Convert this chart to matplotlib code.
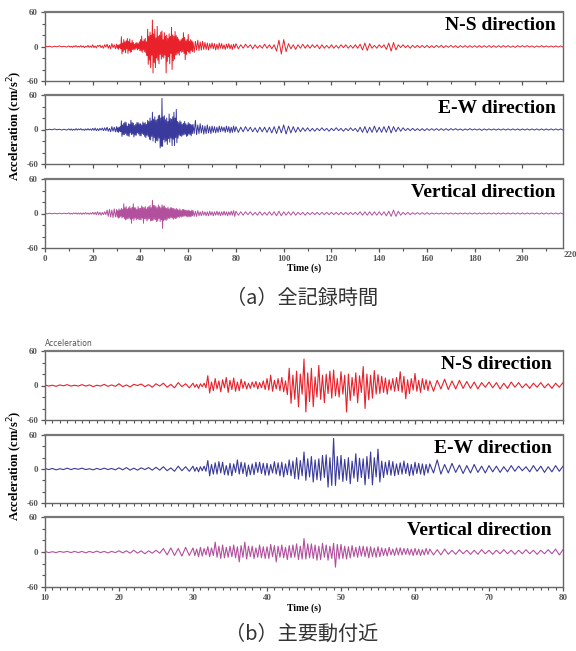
import numpy as np
import matplotlib
matplotlib.use("Agg")
import matplotlib.pyplot as plt
from matplotlib.ticker import MultipleLocator

# peak accelerations (cm/s2), alternating up/down swings
# 10-30 s and 62-80 s: one swing every 0.5 s ; 30-62 s: one every 0.25 s
ns_s1 = [1, -1, 0.5, -1.5, 1, -0.5, 1.5, -1, 0.5, -1,
         1.5, -1, 1, -2, 0.5, -1, 2, -1.5, 1, -1.5,
         3, -2, 1, -2.5, 2, 0, 2.5, -2, 1.5, -3,
         3, -1, 4, -3, 2, -4, 5, -2, 3, -4]
ns_s2 = [4, -3, 2, -5, 3, -2, 4, -4, 17, -13, 6, -9, 12, -6, 8, -11,
         10, -4, 14, -12, 9, -7, 13, -10, 6, -9, 11, -5, 7, -6, 4, -5,
         6, -3, 7, -6, 5, -4, 8, -7, 12, -8, 18, -10, 9, -6, 12, -9,
         14, -11, 8, -16, 30, -31, 18, -24, 25, -37, 20, -15, 46, -46, 22, -28,
         30, -37, 15, -20, 35, -24, 18, -30, 20, -14, 25, -22, 27, -18, 12, -20,
         24, -15, 18, -46, 20, -26, 14, -18, 22, -30, 17, -12, 33, -40, 20, -25,
         18, -22, 26, -15, 19, -14, 16, -12, 13, -15, 10, -8, 12, -10, 14, -9,
         24, -12, 16, -23, 10, -14, 12, -8, 21, -10, 9, -12, 12, -7, 10, -9]
ns_s3 = [8, -10, 9, -6, 11, -7, 8, -6, 9, -5,
         7, -5, 6, -6, 5, -3, 6, -4, 5, -6,
         4, -5, 6, -3, 5, -4, 3, -5, 4, -3,
         5, -4, 3, -5, 4, -3, 5]

ew_s1 = [1, -1, 1, -1.5, 0.5, -1, 1.5, -1, 1, -0.5,
         1.5, -1, 0.5, -1.5, 1, -1, 1.5, -1, 1, -1.5,
         2, -1.5, 2.5, -2, 1.5, -2, 2, -1, 2.5, -2,
         3, -2, 4, -3, 2, -4, 5, -3, 4, -4]
ew_s2 = [5, -4, 3, -5, 4, -3, 5, -4, 15, -12, 8, -9, 11, -9, 13, -7,
         12, -10, 6, -11, 10, -12, 9, -6, 16, -9, 12, -8, 11, -13, 7, -10,
         9, -10, 12, -6, 12, -8, 10, -11, 10, -11, 8, -7, 13, -9, 11, -12,
         12, -14, 9, -10, 16, -12, 14, -17, 20, -18, 15, -12, 30, -20, 18, -14,
         22, -23, 16, -19, 18, -20, 24, -15, 25, -32, 20, -29, 54, -29, 22, -18,
         24, -22, 17, -20, 20, -26, 14, -16, 27, -22, 19, -15, 18, -28, 22, -17,
         30, -28, 20, -14, 35, -23, 14, -15, 12, -10, 15, -11, 13, -12, 9, -10,
         11, -9, 14, -8, 10, -12, 8, -11, 12, -8, 10, -9, 9, -11, 8, -7]
ew_s3 = [9, -7, 16, -9, 8, -7, 10, -6, 7, -8,
         6, -7, 8, -6, 5, -7, 6, -5, 5, -6,
         4, -5, 6, -4, 5, -3, 4, -5, 6, -4,
         5, -6, 4, -5, 6, -4, 5]

ud_s1 = [1, -1, 0.5, -1, 1, -0.5, 1, -1, 1, -1,
         1, -1.5, 1, -1, 1.5, -1, 1, -1.5, 1, -1,
         2, -1.5, 2, -2, 3, -2, 2, -3, 2, -2,
         3, -2, 6, -5, 7, -6, 6, -7, 8, -6]
ud_s2 = [7, -6, 5, -8, 8, -7, 6, -5, 9, -8, 7, -6, 17, -9, 10, -11,
         12, -10, 8, -9, 10, -8, 12, -10, 9, -17, 11, -9, 17, -12, 10, -8,
         10, -11, 7, -9, 12, -10, 9, -11, 9, -11, 13, -8, 11, -17, 10, -9,
         12, -10, 8, -13, 11, -10, 12, -9, 14, -13, 10, -12, 23, -12, 14, -10,
         14, -11, 12, -14, 10, -13, 15, -9, 12, -14, 10, -11, 15, -26, 13, -12,
         13, -11, 10, -12, 9, -10, 11, -8, 8, -9, 10, -7, 10, -8, 9, -10,
         9, -8, 7, -9, 9, -8, 7, -6, 6, -7, 8, -5, 5, -6, 7, -5,
         7, -5, 6, -4, 6, -5, 5, -6, 6, -5, 5, -6, 4, -5, 6, -4]
ud_s3 = [5, -5, 4, -5, 5, -4, 3, -4, 4, -3,
         3, -4, 3, -4, 4, -3, 3, -4, 3, -3,
         4, -3, 3, -4, 3, -3, 4, -3, 3, -4,
         3, -3, 4, -3, 5, -5, 4]

# coarse parts of the full record: 0-9 s and 81-217 s, one swing per second
ns_head = [0.5, -0.5, 0.5, -1, 0.5, -0.5, 1, -0.5, 0.5, -1]
ew_head = [0.5, -0.5, 0.5, -0.5, 1, -0.5, 0.5, -1, 0.5, -1]
ud_head = [0.5, -0.5, 0.5, -0.5, 0.5, -0.5, 0.5, -0.5, 0.5, -0.5]

ns_tail = [-4, 3, -3, 4, -2, 3, -4, 3, -3, 2,
           -3, 4, -3, 3, -4, 3, -8, 11, -13, 12,
           -9, 5, -4, 3, -5, 3, -3, 4, -3, 3,
           -3, 3, -2, 3, -4, 3, -3, 2, -3, 3,
           -3, 2, -3, 3, -2, 3, -3, 2, -3, 3,
           -3, 4, -6, 6, -7, 5, -3, 2, -3, 3,
           -2, 3, -5, 6, -8, 7, -6, 3, -2, 3,
           -2, 2, -3, 2, -2, 2, -2, 2, -2, 2,
           -2, 1.5, -2, 2, -1.5, 2, -2, 1.5, -1.5, 2,
           -1.5, 1.5, -2, 1.5, -1.5, 1.5, -1.5, 1.5, -1.5, 1.5,
           -1.5, 1.5, -1.5, 1.5, -1.5, 1.5, -1.5, 1.5, -1.5, 1.5,
           -1.5, 1.5, -1, 1.5, -1.5, 1, -1.5, 1.5, -1, 1.5,
           -1, 1.5, -1, 1, -1.5, 1, -1, 1.5, -1, 1,
           -1, 1, -1, 1, -1, 1, -1]
ew_tail = [-5, 4, -4, 5, -3, 4, -4, 3, -5, 4,
           -4, 4, -5, 4, -6, 5, -7, 6, -6, 8,
           -8, 6, -6, 5, -5, 4, -4, 3, -3, 3,
           -3, 2, -3, 2, -2, 3, -2, 2, -3, 2,
           -2, 3, -2, 2, -3, 2, -2, 3, -2, 2,
           -4, 4, -5, 5, -6, 4, -5, 6, -5, 4,
           -5, 5, -5, 6, -6, 5, -4, 4, -3, 3,
           -2, 2, -2, 2, -2, 1.5, -2, 1.5, -2, 1.5,
           -1.5, 1.5, -1.5, 1.5, -1.5, 1.5, -1.5, 1.5, -1.5, 1.5,
           -1, 1.5, -1, 1, -1.5, 1, -1, 1.5, -1, 1,
           -1, 1, -1.5, 1, -1, 1, -1, 1, -1, 1,
           -1, 1, -1, 1, -1, 1, -1, 1, -1, 1,
           -1, 1, -1, 1, -1, 1, -1, 1, -1, 1,
           -1, 1, -1, 1, -1, 1, -1]
ud_tail = [-3, 3, -3, 3, -2, 3, -3, 2, -3, 3,
           -3, 2, -3, 3, -3, 3, -4, 4, -4, 3,
           -3, 3, -3, 3, -3, 2, -2, 2, -3, 2,
           -2, 2, -2, 2, -2, 2, -2, 2, -2, 2,
           -2, 2, -2, 2, -2, 2, -2, 2, -2, 2,
           -2, 3, -3, 3, -3, 3, -3, 3, -3, 3,
           -3, 3, -4, 4, -5, 6, -5, 4, -3, 2,
           -2, 2, -2, 1.5, -1.5, 1.5, -1.5, 1.5, -1.5, 1.5,
           -1.5, 1, -1, 1, -1, 1, -1, 1, -1, 1,
           -1, 1, -1, 1, -1, 1, -1, 1, -1, 1,
           -1, 1, -1, 1, -1, 1, -1, 1, -1, 1,
           -1, 1, -1, 1, -1, 1, -1, 1, -1, 1,
           -1, 1, -1, 1, -1, 1, -1, 1, -1, 1,
           -1, 1, -1, 1, -1, 1, -1]

t_head = np.arange(0, 10)
t_main = np.concatenate([np.arange(10, 30, 0.5), np.arange(30, 62, 0.25),
                         np.arange(62, 80.5, 0.5)])
t_tail = np.arange(81, 218)
t_full = np.concatenate([t_head, t_main, t_tail])

names = ['N-S direction', 'E-W direction', 'Vertical direction']
colors = ['#e8212b', '#3a3a9c', '#b3509e']
main = [ns_s1 + ns_s2 + ns_s3, ew_s1 + ew_s2 + ew_s3, ud_s1 + ud_s2 + ud_s3]
full = [ns_head + main[0] + ns_tail,
        ew_head + main[1] + ew_tail,
        ud_head + main[2] + ud_tail]

serif = 'Liberation Serif'
W, H = 576., 651.


def fax(top, bot):
    # axes from pixel rows of the figure
    return fig.add_axes([45 / W, 1 - bot / H, 518 / W, (bot - top) / H])


def style(ax, xmin, xmax, major, minor):
    ax.set_xlim(xmin, xmax)
    ax.set_ylim(-60, 60)
    ax.set_yticks([-60, 0, 60])
    ax.set_yticklabels(['-60', '0', '60'])
    ax.yaxis.set_minor_locator(MultipleLocator(20))
    ax.xaxis.set_major_locator(MultipleLocator(major))
    ax.xaxis.set_minor_locator(MultipleLocator(minor))
    ax.tick_params(which='both', direction='out', color='#555',
                   labelsize=6.5, labelcolor='#555', pad=2)
    ax.tick_params(which='major', length=3, width=0.9)
    ax.tick_params(which='minor', length=2.2, width=0.8)
    for s in ax.spines.values():
        s.set_color('#666')
        s.set_linewidth(1.0)
    ax.spines['top'].set_linewidth(1.6)
    ax.spines['top'].set_color('#777')
    for lab in ax.get_xticklabels() + ax.get_yticklabels():
        lab.set_family(serif)
        lab.set_fontweight('bold')


fig = plt.figure(figsize=(5.76, 6.51), dpi=100)

# (a) whole record
rows_a = [(12, 81), (95, 164), (179, 248)]
for k, (top, bot) in enumerate(rows_a):
    ax = fax(top, bot)
    ax.plot(t_full, full[k], color=colors[k], lw=0.7)
    style(ax, 0, 217, 20, 10)
    ax.text(0.986, 0.93, names[k], transform=ax.transAxes, ha='right', va='top',
            family=serif, fontweight='bold', fontsize=14)
    if k < 2:
        ax.tick_params(labelbottom=False)
    else:
        ax.text(220, -66, '220', ha='center', va='top', fontsize=6.5,
                color='#555', family=serif, fontweight='bold', clip_on=False)
        ax.text(0.5, -0.23, 'Time (s)', transform=ax.transAxes, ha='center',
                va='top', family=serif, fontweight='bold', fontsize=7)

# (b) main shaking part
rows_b = [(351, 420), (435, 503), (517, 587)]
for k, (top, bot) in enumerate(rows_b):
    ax = fax(top, bot)
    ax.plot(t_main, main[k], color=colors[k], lw=0.8)
    style(ax, 10, 80, 10, 1)
    ax.text(0.978, 0.93, names[k], transform=ax.transAxes, ha='right', va='top',
            family=serif, fontweight='bold', fontsize=14)
    if k == 0:
        ax.text(0.0, 1.04, 'Acceleration', transform=ax.transAxes, ha='left',
                va='bottom', fontsize=5.5, color='#555')
    if k < 2:
        ax.tick_params(labelbottom=False)
    else:
        ax.text(0.5, -0.23, 'Time (s)', transform=ax.transAxes, ha='center',
                va='top', family=serif, fontweight='bold', fontsize=7)

for yc in (126, 466):
    fig.text(15 / W, 1 - yc / H, 'Acceleration (cm/s$^2$)', rotation=90,
             ha='center', va='center', family=serif, fontweight='bold',
             fontsize=9)

cjk = ['Noto Sans CJK JP', 'DejaVu Sans']
fig.text(302 / W, 1 - 298 / H, '（a）全記録時間', ha='center', va='center',
         family=cjk, fontsize=14.5, color='#333')
fig.text(302 / W, 1 - 634 / H, '（b）主要動付近', ha='center', va='center',
         family=cjk, fontsize=14.5, color='#333')

fig.savefig('out.png', dpi=100)
